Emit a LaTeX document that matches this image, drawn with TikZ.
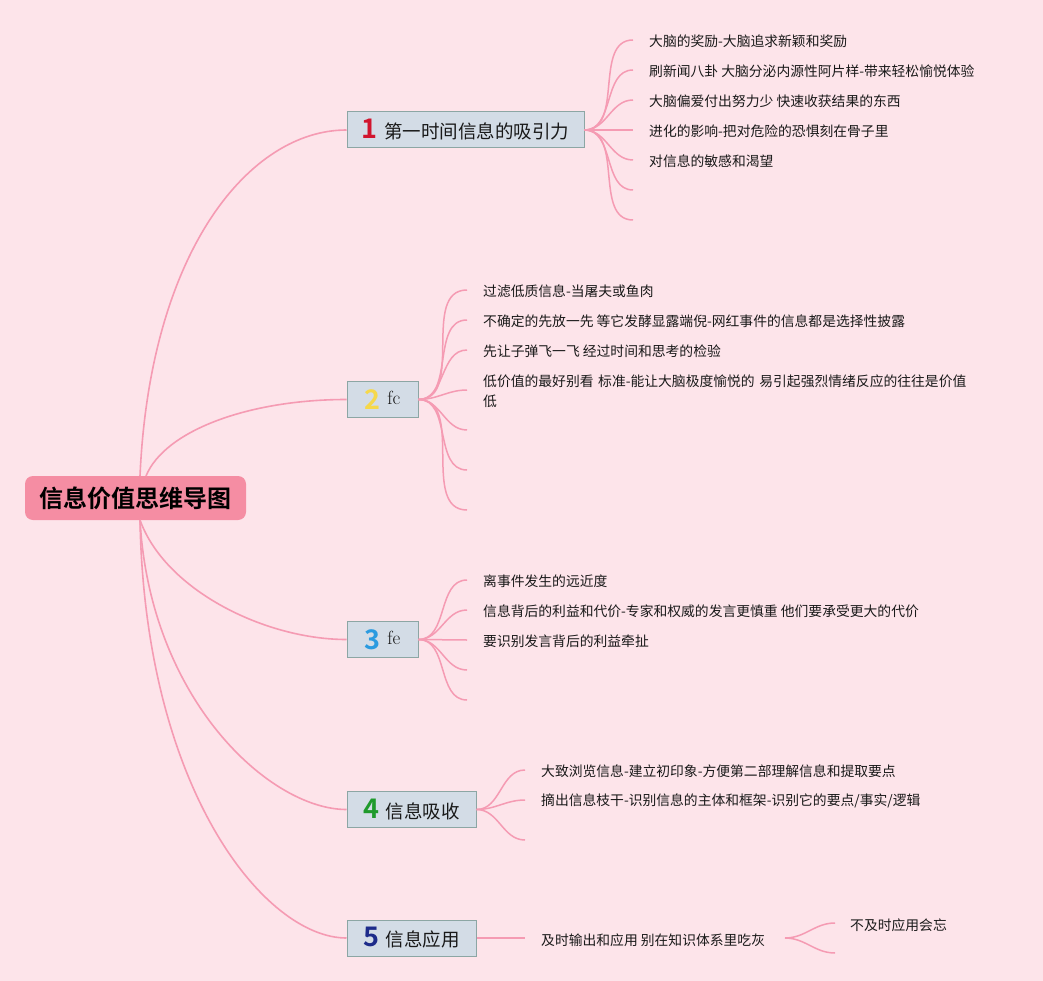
\documentclass[tikz,border=0pt]{standalone}
\usepackage{fontspec}
\usepackage{xcolor}
\newfontfamily\cjk{Noto Sans CJK SC}[BoldFont={Noto Sans CJK SC Bold}]
\definecolor{bgpink}{HTML}{FDE4EA}
\definecolor{linepink}{HTML}{F59BB3}
\definecolor{rootpink}{HTML}{F58DA3}
\definecolor{boxblue}{HTML}{D3DCE6}
\definecolor{boxrim}{HTML}{8CA6A4}
\definecolor{numred}{HTML}{D1152E}
\definecolor{numyellow}{HTML}{F6D84A}
\definecolor{numblue}{HTML}{2B9BE0}
\definecolor{numgreen}{HTML}{1F9A2C}
\definecolor{numnavy}{HTML}{1D2B8A}
\newcommand{\numtag}[2]{{\color{#1}\cjk\bfseries\fontsize{27}{27}\selectfont #2}}
\usetikzlibrary{calc}
\tikzset{
rootnode/.style={fill=rootpink,rounded corners=8pt,minimum width=221pt,minimum height=44pt,inner sep=0pt,font=\cjk\bfseries\fontsize{24}{26}\selectfont,text=black},
branchnode/.style={fill=boxblue,draw=boxrim,line width=1pt,minimum height=36pt,inner sep=0pt,font=\cjk\fontsize{18.5}{20}\selectfont,text=black!90},
leaftext/.style={anchor=west,inner sep=0pt,font=\cjk\fontsize{13.8}{20}\selectfont,text=black!90},
limb/.style={draw=linepink,line width=1.6pt},
twig/.style={draw=linepink,line width=1.5pt}
}

\begin{document}
\begin{tikzpicture}[x=1pt,y=-1pt]
\fill[bgpink] (0,0) rectangle (1043,981);
\useasboundingbox (0,0) rectangle (1043,981);
\node[rootnode] (root) at (135.5,498) {信息价值思维导图};
\node[branchnode,minimum width=237pt] (b1) at (465.5,130) {\numtag{numred}{1}\hspace{7pt}第一时间信息的吸引力};
\node[branchnode,minimum width=71pt] (b2) at (382.5,399.5) {\numtag{numyellow}{2}\hspace{7pt}\raisebox{5pt}{\rmfamily\fontsize{19}{20}\selectfont fc}};
\node[branchnode,minimum width=71pt] (b3) at (382.5,639.5) {\numtag{numblue}{3}\hspace{7pt}\raisebox{5pt}{\rmfamily\fontsize{19}{20}\selectfont fe}};
\node[branchnode,minimum width=129pt] (b4) at (411.5,809.5) {\numtag{numgreen}{4}\hspace{7pt}信息吸收};
\node[branchnode,minimum width=129pt] (b5) at (411.5,938) {\numtag{numnavy}{5}\hspace{7pt}信息应用};
\coordinate (r1) at (140,476);
\coordinate (r2) at (146,476);
\coordinate (r3) at (140,520);
\draw[limb] (r1) .. controls (150,250) and (250,130) .. (b1.west);
\draw[limb] (r2) .. controls (165,430) and (250,399.5) .. (b2.west);
\draw[limb] (r3) .. controls (165,590) and (265,639.5) .. (b3.west);
\draw[limb] (r3) .. controls (150,700) and (270,809.5) .. (b4.west);
\draw[limb] (r3) .. controls (145,790) and (265,938) .. (b5.west);
\coordinate (p11) at (633,40);
\coordinate (p12) at (633,70);
\coordinate (p13) at (633,100);
\coordinate (p14) at (633,130);
\coordinate (p15) at (633,160);
\coordinate (p16) at (633,190);
\coordinate (p17) at (633,220);
\draw[twig] (b1.east) to[out=0,in=180] (p11);
\draw[twig] (b1.east) to[out=0,in=180] (p12);
\draw[twig] (b1.east) to[out=0,in=180] (p13);
\draw[twig] (b1.east) -- (p14);
\draw[twig] (b1.east) to[out=0,in=180] (p15);
\draw[twig] (b1.east) to[out=0,in=180] (p16);
\draw[twig] (b1.east) to[out=0,in=180] (p17);
\node[leaftext] (t11) at (649,41) {大脑的奖励-大脑追求新颖和奖励};
\node[leaftext] (t12) at (649,71) {刷新闻八卦 大脑分泌内源性阿片样-带来轻松愉悦体验};
\node[leaftext] (t13) at (649,101) {大脑偏爱付出努力少 快速收获结果的东西};
\node[leaftext] (t14) at (649,131) {进化的影响-把对危险的恐惧刻在骨子里};
\node[leaftext] (t15) at (649,161) {对信息的敏感和渴望};
\coordinate (p21) at (467,290);
\coordinate (p22) at (467,320);
\coordinate (p23) at (467,350);
\coordinate (p24) at (467,390);
\coordinate (p25) at (467,430);
\coordinate (p26) at (467,470);
\coordinate (p27) at (467,510);
\draw[twig] (b2.east) to[out=0,in=180] (p21);
\draw[twig] (b2.east) to[out=0,in=180] (p22);
\draw[twig] (b2.east) to[out=0,in=180] (p23);
\draw[twig] (b2.east) to[out=0,in=180] (p24);
\draw[twig] (b2.east) to[out=0,in=180] (p25);
\draw[twig] (b2.east) to[out=0,in=180] (p26);
\draw[twig] (b2.east) to[out=0,in=180] (p27);
\node[leaftext] (t21) at (483,291) {过滤低质信息-当屠夫或鱼肉};
\node[leaftext] (t22) at (483,321) {不确定的先放一先 等它发酵显露端倪-网红事件的信息都是选择性披露};
\node[leaftext] (t23) at (483,351) {先让子弹飞一飞 经过时间和思考的检验};
\node[leaftext,text width=505pt,align=left] (t24) at (483,391) {低价值的最好别看 标准-能让大脑极度愉悦的 易引起强烈情绪反应的往往是价值\\低};
\coordinate (p31) at (467,580);
\coordinate (p32) at (467,610);
\coordinate (p33) at (467,640);
\coordinate (p34) at (467,670);
\coordinate (p35) at (467,700);
\draw[twig] (b3.east) to[out=0,in=180] (p31);
\draw[twig] (b3.east) to[out=0,in=180] (p32);
\draw[twig] (b3.east) -- (p33);
\draw[twig] (b3.east) to[out=0,in=180] (p34);
\draw[twig] (b3.east) to[out=0,in=180] (p35);
\node[leaftext] (t31) at (483,581) {离事件发生的远近度};
\node[leaftext] (t32) at (483,611) {信息背后的利益和代价-专家和权威的发言更慎重 他们要承受更大的代价};
\node[leaftext] (t33) at (483,641) {要识别发言背后的利益牵扯};
\coordinate (p41) at (525,770);
\coordinate (p42) at (525,800);
\coordinate (p43) at (525,840);
\draw[twig] (b4.east) to[out=0,in=180] (p41);
\draw[twig] (b4.east) to[out=0,in=180] (p42);
\draw[twig] (b4.east) to[out=0,in=180] (p43);
\node[leaftext] (t41) at (541,771) {大致浏览信息-建立初印象-方便第二部理解信息和提取要点};
\node[leaftext] (t42) at (541,801) {摘出信息枝干-识别信息的主体和框架-识别它的要点/事实/逻辑};
\coordinate (p51) at (525,938);
\draw[twig] (b5.east) -- (p51);
\node[leaftext] (t51) at (541,940) {及时输出和应用 别在知识体系里吃灰};
\coordinate (q5) at (785,938);
\coordinate (p52) at (835,923);
\coordinate (p53) at (835,953);
\draw[twig] (q5) to[out=0,in=180] (p52);
\draw[twig] (q5) to[out=0,in=180] (p53);
\node[leaftext] (t52) at (850,925) {不及时应用会忘};
\end{tikzpicture}
\end{document}
